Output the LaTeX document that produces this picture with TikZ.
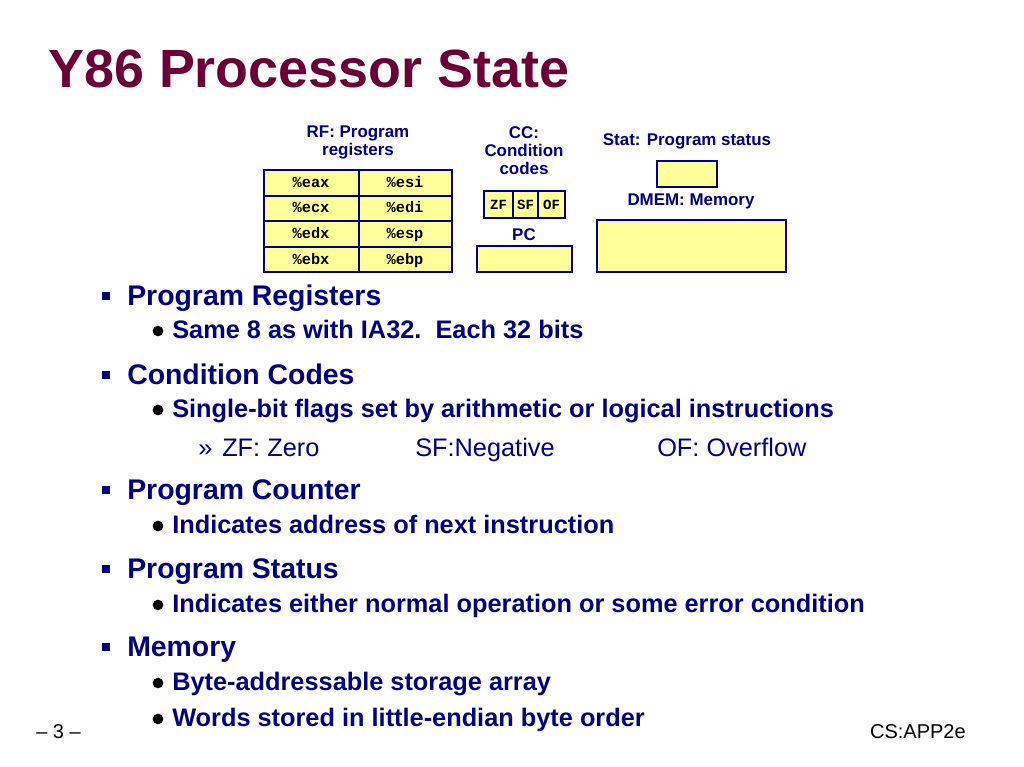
\documentclass[tikz,border=0pt]{standalone}
\usepackage{fontspec}
\setmainfont{Liberation Sans}
\setmonofont{Liberation Mono}
\begin{document}
\begin{tikzpicture}[x=0.75pt,y=-0.75pt,
  box/.style={draw=navy,line width=2pt,fill=yel},
  lab/.style={font=\fontsize{12.7}{13.5}\selectfont\bfseries,text=navy,align=center,inner sep=0pt},
  reg/.style={font=\fontsize{11.5}{12}\ttfamily\bfseries,text=black,inner sep=0pt,anchor=base},
  l1/.style={font=\fontsize{21.3}{24}\selectfont\bfseries,text=navy,anchor=base west,inner sep=0pt},
  l2/.style={font=\fontsize{19}{21}\selectfont\bfseries,text=navy,anchor=base west,inner sep=0pt},
  l3/.style={font=\fontsize{19}{21}\selectfont,text=navy,anchor=base west,inner sep=0pt},
  sq/.style={fill=navy,minimum size=6.5pt,inner sep=0pt},
  dot/.style={circle,fill=black,minimum size=8pt,inner sep=0pt}]
\definecolor{navy}{HTML}{000080}
\definecolor{yel}{HTML}{FFFF99}
\definecolor{maroon}{HTML}{6B0038}
\useasboundingbox (0,0) rectangle (1024,767);
\node[anchor=base west,inner sep=0pt,font=\fontsize{40.4}{44}\selectfont\bfseries,text=maroon] (title) at (48,88) {Y86 Processor State};
% register file
\fill[yel] (264,170) rectangle (452,272);
\foreach \y in {196,221,247} \draw[navy,line width=0.8pt] (264,\y) -- (452,\y);
\draw[navy,line width=0.8pt] (359,170) -- (359,272);
\draw[navy,line width=2pt] (264,170) rectangle (452,272);
\foreach \a/\b/\y [count=\i] in {eax/esi/187,ecx/edi/212,edx/esp/238,ebx/ebp/264}{
  \node[reg] (ra\i) at (311,\y) {\%\a};
  \node[reg] (rb\i) at (405,\y) {\%\b};}
\node[lab] (rf) at (358,142) {RF: Program\\registers};
% CC
\draw[box] (484,191) rectangle (565,218);
\draw[navy,line width=0.8pt] (513,191) -- (513,218) (538,191) -- (538,218);
\node[reg,font=\fontsize{10.5}{11}\ttfamily\bfseries] (zf) at (498.5,209) {ZF};
\node[reg,font=\fontsize{10.5}{11}\ttfamily\bfseries] (sf) at (525.5,209) {SF};
\node[reg,font=\fontsize{10.5}{11}\ttfamily\bfseries] (of) at (551.5,209) {OF};
\node[lab] (cc) at (524,151) {CC:\\Condition\\codes};
\node[lab] (pcl) at (524,235) {PC};
\draw[box] (477,246) rectangle (572,272);
\node[lab] (stl) at (687,141) {Stat: Program status};
\draw[box] (657,161) rectangle (717,187);
\node[lab] (dml) at (691,201) {DMEM: Memory};
\draw[box] (597,220) rectangle (786,272);
% bullets
\foreach \y/\t in {305/Program Registers,384/Condition Codes,499/Program Counter,578/Program Status,656/Memory}{
  \node[sq] at (106,\y-9) {};
  \node[l1] at (127,\y) {\t};}
\foreach \y/\t in {338/Same 8 as with IA32.\ \ Each 32 bits,417/Single-bit flags set by arithmetic or logical instructions,533/Indicates address of next instruction,612/Indicates either normal operation or some error condition,690/Byte-addressable storage array,726/Words stored in little-endian byte order}{
  \node[dot] at (158,\y-7) {};
  \node[l2] at (172,\y) {\t};}
\node[l3] (rq) at (198,456) {»};
\node[l3] (zz) at (222,456) {ZF: Zero};
\node[l3] (ss) at (415,456) {SF:Negative};
\node[l3] (oo) at (657,456) {OF: Overflow};
\node[anchor=base west,inner sep=0pt,font=\fontsize{15}{16}\selectfont] (pg) at (36,738) {– 3 –};
\node[anchor=base east,inner sep=0pt,font=\fontsize{15}{16}\selectfont] (cs) at (966,738) {CS:APP2e};
\end{tikzpicture}
\end{document}
